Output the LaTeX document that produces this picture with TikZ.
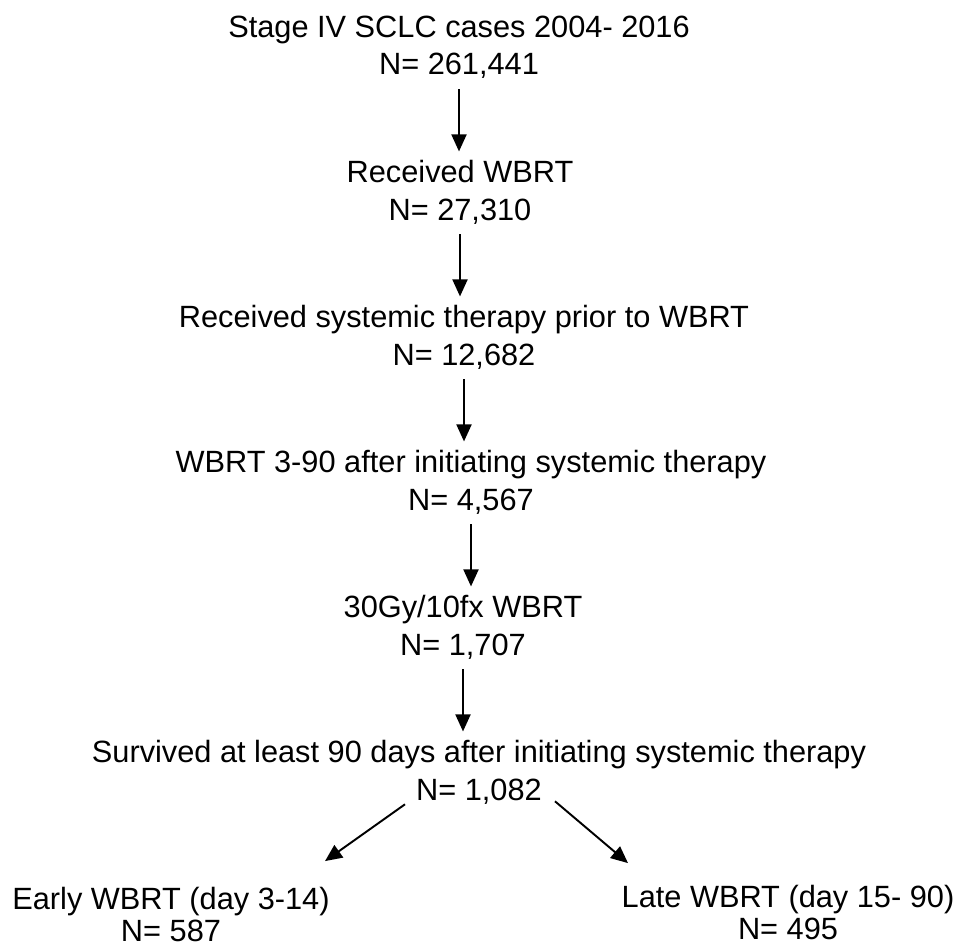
\documentclass[tikz,border=0pt]{standalone}
\usepackage{fontspec}
\setmainfont{Liberation Sans}
\usetikzlibrary{arrows.meta,calc}
\begin{document}
\begin{tikzpicture}[x=0.02cm,y=-0.02cm,
  every node/.style={align=center, inner sep=0pt, anchor=base, font=\fontsize{17.5}{21.6}\selectfont},
  leaf/.style={font=\fontsize{17.5}{17.8}\selectfont},
  flow/.style={-{Triangle[length=0.34cm,width=0.3cm]}, line width=1.1pt, shorten <=0.2cm, shorten >=0.16cm},
  fork/.style={flow, shorten <=0pt, shorten >=0pt}]
\useasboundingbox (0,0) rectangle (961,946);
\node (s1) at (459,75) {Stage IV SCLC cases 2004- 2016\\N= 261,441};
\node (s2) at (460,220) {Received WBRT\\N= 27,310};
\node (s3) at (464,365) {Received systemic therapy prior to WBRT\\N= 12,682};
\node (s4) at (471,510) {WBRT 3-90 after initiating systemic therapy\\N= 4,567};
\node (s5) at (463,655) {30Gy/10fx WBRT\\N= 1,707};
\node (s6) at (479,800) {Survived at least 90 days after initiating systemic therapy\\N= 1,082};
\node[leaf] (early) at (171,941) {Early WBRT (day 3-14)\\N= 587};
\node[leaf] (late) at (788,939) {Late WBRT (day 15- 90)\\N= 495};

\draw[flow] (s1.south) -- (s1.south |- s2.north);
\draw[flow] (s2.south) -- (s2.south |- s3.north);
\draw[flow] (s3.south) -- (s3.south |- s4.north);
\draw[flow] (s4.south) -- (s4.south |- s5.north);
\draw[flow] (s5.south) -- (s5.south |- s6.north);
\draw[fork] ($(s6.south)+(-74,0)$) -- ($(early.north)+(154,-26)$);
\draw[fork] ($(s6.south)+(76,-3)$) -- ($(late.north)+(-160,-22)$);
\end{tikzpicture}
\end{document}
